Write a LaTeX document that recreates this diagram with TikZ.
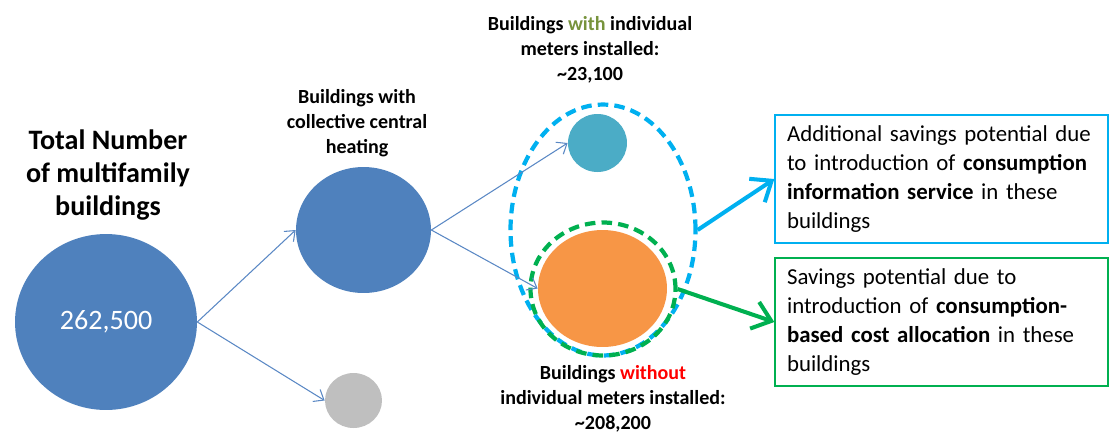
\documentclass[tikz,border=0pt]{standalone}
\usepackage{fontspec}
\setmainfont{Carlito}
\usetikzlibrary{arrows.meta,shapes.geometric}
\definecolor{bigblue}{HTML}{4F81BD}
\definecolor{linkblue}{HTML}{5A88C4}
\definecolor{tealc}{HTML}{4BACC6}
\definecolor{orangec}{HTML}{F79646}
\definecolor{grayc}{HTML}{BFBFBF}
\definecolor{skyc}{HTML}{00B0F0}
\definecolor{greenc}{HTML}{00B050}
\definecolor{olivec}{HTML}{77933C}
\definecolor{redc}{HTML}{FF0000}
\begin{document}
\begin{tikzpicture}[x=0.02cm,y=-0.02cm,
		blob/.style={ellipse,inner sep=0pt},
		thinarrow/.style={-{Straight Barb[length=5pt,width=8pt]},draw=linkblue,line width=0.6pt},
		fatarrow/.style={-{Straight Barb[length=10pt,width=16pt]},line width=2.3pt},
		dashring/.style={blob,line width=2.4pt,dash pattern=on 6pt off 3.5pt},
		tag/.style={align=center,font=\fontsize{11.4}{14.2}\selectfont\bfseries},
		infobox/.style={draw,line width=0.8pt,minimum width=6.66cm,minimum height=2.56cm,text width=6.18cm,align=left,inner xsep=0.24cm,font=\fontsize{13}{16.5}\selectfont}]
			\useasboundingbox (0,0) rectangle (1110,434);
			\node[blob, fill=bigblue, minimum width=3.64cm, minimum height=3.52cm, text=white, font=\fontsize{16}{19}\selectfont] (tot) at (106,322) {262,500};
			\node[blob, fill=bigblue, minimum width=2.7cm, minimum height=2.52cm] (coll) at (363.5,230) {};
			\node[blob, fill=grayc, minimum width=1.14cm, minimum height=1.1cm] (none) at (353.5,400.5) {};
			\node[blob, fill=tealc, minimum width=1.18cm, minimum height=1.16cm] (with) at (597.5,143) {};
			\node[blob, fill=orangec, minimum width=2.58cm, minimum height=2.34cm] (without) at (602.5,288.5) {};
			\node[dashring, draw=skyc, minimum width=3.7cm, minimum height=5.02cm] (ring) at (603,230) {};
			\node[dashring, draw=greenc, minimum width=2.9cm, minimum height=2.66cm] (halo) at (603,289) {};
			\node[align=center, font=\fontsize{16}{18.7}\selectfont\bfseries] (totlabel) at (108,175) {Total Number\\of multifamily\\buildings};
			\node[tag] (colllabel) at (357,123) {Buildings with\\collective central\\heating};
			\node[tag] (withlabel) at (590,50) {Buildings \textcolor{olivec}{with} individual\\meters installed:\\\textasciitilde23,100};
			\node[tag] (withoutlabel) at (613,399) {Buildings \textcolor{redc}{without}\\individual meters installed:\\\textasciitilde208,200};
			\node[infobox, draw=skyc] (infobox) at (941.5,179) {Additional savings potential due\\to introduction of \textbf{consumption}\\\textbf{information service} in these\\buildings};
			\node[infobox, draw=greenc] (costbox) at (941.5,322) {Savings potential due to\\introduction of \textbf{consumption-}\\\textbf{based cost allocation} in these\\buildings};
			\draw[thinarrow] (tot.east) -- (coll.west);
			\draw[thinarrow] (tot.east) -- (none.west);
			\draw[thinarrow] (coll.east) -- (with.west);
			\draw[thinarrow] (coll.east) -- (without.west);
			\draw[fatarrow, skyc] (ring.east) -- (infobox.west);
			\draw[fatarrow, greenc] (halo.east) -- (costbox.west);
		\end{tikzpicture}
\end{document}
